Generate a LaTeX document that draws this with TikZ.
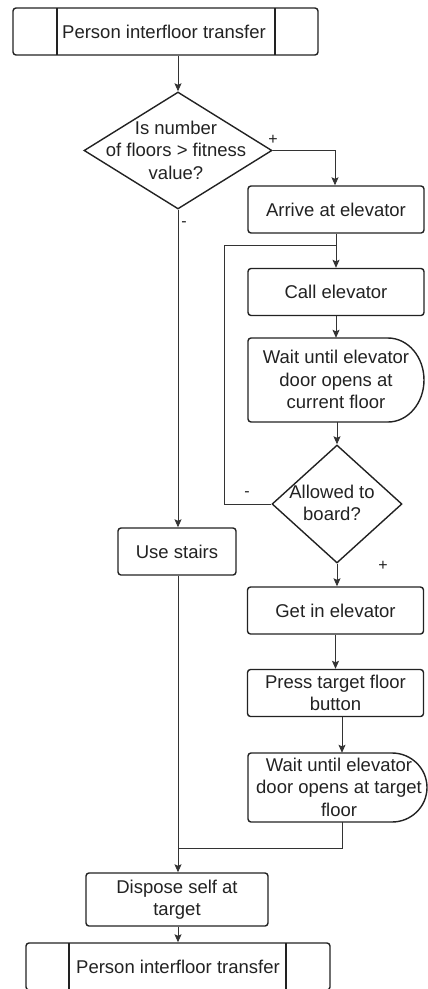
\documentclass[tikz,border=0pt]{standalone}
\usepackage{fontspec}
\setmainfont{Liberation Sans}
\usetikzlibrary{shapes.geometric,arrows.meta,calc}

\definecolor{ink}{HTML}{222222}
\definecolor{wire}{HTML}{333333}

\tikzset{
  txt/.style={font=\fontsize{18.5}{22.5}\selectfont, text=ink, align=center, inner sep=0pt},
  box/.style={draw=ink, line width=1.4pt, rounded corners=3pt, fill=white},
  proc/.style={box, minimum width=176pt, minimum height=47pt, txt},
  dia/.style={draw=ink, line width=1.4pt, diamond, inner sep=0pt},
  ghost/.style={inner sep=0pt},
  wireline/.style={draw=wire, line width=0.9pt},
  conn/.style={wireline, -{Stealth[length=8pt,width=7pt,inset=1.5pt]}},
  sign/.style={font=\fontsize{16}{16}\selectfont, text=ink, inner sep=0pt},
}

\begin{document}
\begin{tikzpicture}[x=1pt, y=-1pt]
  \useasboundingbox (0,0) rectangle (428,989);

  % predefined process at the top
  \node[box, minimum width=305pt, minimum height=47pt] (start) at (165.5,31.5) {};
  \draw[draw=ink, line width=1.4pt] (57,8) -- (57,55) (275,8) -- (275,55);
  \node[txt] at (164,31.5) {Person interfloor transfer};

  % first decision
  \node[dia, minimum width=188pt, minimum height=117pt] (d1) at (178,150.5) {};
  \node[txt] at (176,150) {Is number\\of floors > fitness\\value?};

  % elevator branch
  \node[proc] (arrive) at (336,209.5) {Arrive at elevator};
  \node[proc] (call) at (336,292) {Call elevator};

  % delay: wait at current floor
  \node[ghost, minimum width=176pt, minimum height=84pt] (w1) at (336,380) {};
  \draw[box, fill=none]
    (388,338) -- (248,338) -- (248,422) -- (388,422);
  \draw[draw=ink, line width=1.4pt]
    (388,338) .. controls (407.9,338) and (424,356.8) .. (424,380)
              .. controls (424,403.2) and (407.9,422) .. (388,422);
  \node[txt] at (336,379.5) {Wait until elevator\\door opens at\\current floor};

  % second decision
  \node[dia, minimum width=130pt, minimum height=118pt] (d2) at (337,504) {};
  \node[txt] at (332,503) {Allowed to\\board?};

  \node[proc] (getin) at (335.5,610.5) {Get in elevator};
  \node[proc] (press) at (335.5,693) {Press target floor\\button};

  % delay: wait at target floor
  \node[ghost, minimum width=179pt, minimum height=69pt] (w2) at (337.5,787.5) {};
  \draw[box, fill=none]
    (392,753) -- (248,753) -- (248,822) -- (392,822);
  \draw[draw=ink, line width=1.4pt]
    (392,753) .. controls (411.3,753) and (427,768.4) .. (427,787.5)
              .. controls (427,806.6) and (411.3,822) .. (392,822);
  \node[txt] at (339,787) {Wait until elevator\\door opens at target\\floor};

  % stairs branch and the end
  \node[proc, minimum width=118pt] (stairs) at (177,551.5) {Use stairs};
  \node[proc, minimum width=182pt, minimum height=53pt] (dispose) at (177,899.5) {Dispose self at\\target};

  \node[box, minimum width=304pt, minimum height=47pt] (finish) at (178,966.5) {};
  \draw[draw=ink, line width=1.4pt] (69,943) -- (69,990) (286,943) -- (286,990);
  \node[txt] at (178,966.5) {Person interfloor transfer};

  % connectors
  \coordinate (loopin) at (336,245);
  \coordinate (loopcorner) at (224,245);
  \coordinate (loopturn) at (224,504);
  \coordinate (yes1) at (335,150.5);
  \coordinate (join) at (178,848);
  \coordinate (w2out) at (342,822);
  \coordinate (w2corner) at (342,848);
  \coordinate (pressout) at (342,717);

  \draw[conn] (start.south -| d1.north) -- (d1.north);
  \draw[conn] (d1.east) -- (yes1) -- (arrive.north -| yes1);
  \draw[conn] (arrive.south) -- (call.north);
  \draw[wireline] (d2.west) -- (loopturn) -- (loopcorner) -- (loopin);
  \draw[conn] (call.south) -- (w1.north);
  \draw[conn] (w1.south -| d2.north) -- (d2.north);
  \draw[conn] (d2.south) -- (getin.north -| d2.south);
  \draw[conn] (getin.south) -- (press.north);
  \draw[conn] (pressout) -- (pressout |- w2.north);
  \draw[wireline] (w2out) -- (w2corner) -- (join);
  \draw[conn] (d1.south) -- (stairs.north -| d1.south);
  \draw[conn] (stairs.south -| d1.south) -- (dispose.north -| d1.south);
  \draw[conn] (dispose.south -| finish.north) -- (finish.north);

  % branch signs
  \node[sign] (plus1) at (273,140) {+};
  \node[sign] (minus1) at (184,224) {-};
  \node[sign] (minus2) at (247,494) {-};
  \node[sign] (plus2) at (383,566) {+};
\end{tikzpicture}
\end{document}
